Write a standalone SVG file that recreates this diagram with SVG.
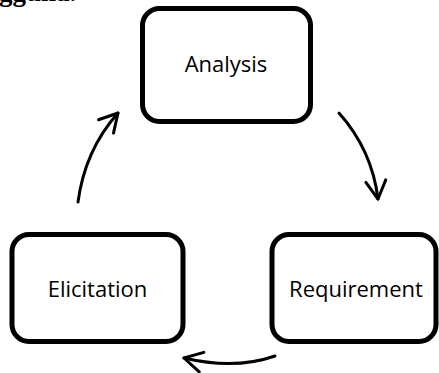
<svg xmlns="http://www.w3.org/2000/svg" width="439" height="373" viewBox="0 0 439 373">
<style>
.box{fill:#fff;stroke:#000;stroke-width:5}
.lbl{font-family:"Open Sans","Liberation Sans",sans-serif;font-size:22px;fill:#000;text-anchor:middle}
.arr{fill:none;stroke:#000;stroke-width:3;stroke-linecap:round}
</style>
<defs>
<marker id="ah" viewBox="0 0 24 24" refX="21" refY="12" markerWidth="24" markerHeight="24" markerUnits="userSpaceOnUse" orient="auto" overflow="visible">
<path d="M3,2 L21,12 L3,22" fill="none" stroke="#000" stroke-width="3" stroke-linecap="round" stroke-linejoin="round"/>
</marker>
</defs>
<rect width="439" height="373" fill="#fff"/>
<text x="-1" y="1" font-family="Liberation Serif,serif" font-size="27" font-weight="bold" fill="#000">gguna.</text>
<g id="analysis">
<rect class="box" x="142.5" y="8.5" width="168" height="113" rx="17"/>
<text class="lbl" x="226" y="72">Analysis</text>
</g>
<g id="requirement">
<rect class="box" x="272" y="234.5" width="164" height="107" rx="17"/>
<text class="lbl" x="356" y="297">Requirement</text>
</g>
<g id="elicitation">
<rect class="box" x="12" y="234.5" width="171" height="107" rx="17"/>
<text class="lbl" x="97.5" y="297">Elicitation</text>
</g>
<g id="connectors">
<path class="arr" d="M339,113 Q372,150 378,199" marker-end="url(#ah)"/>
<path class="arr" d="M275,356 Q235,370 184,358" marker-end="url(#ah)"/>
<path class="arr" d="M78,202 Q85,150 118,113" marker-end="url(#ah)"/>
</g>
</svg>
